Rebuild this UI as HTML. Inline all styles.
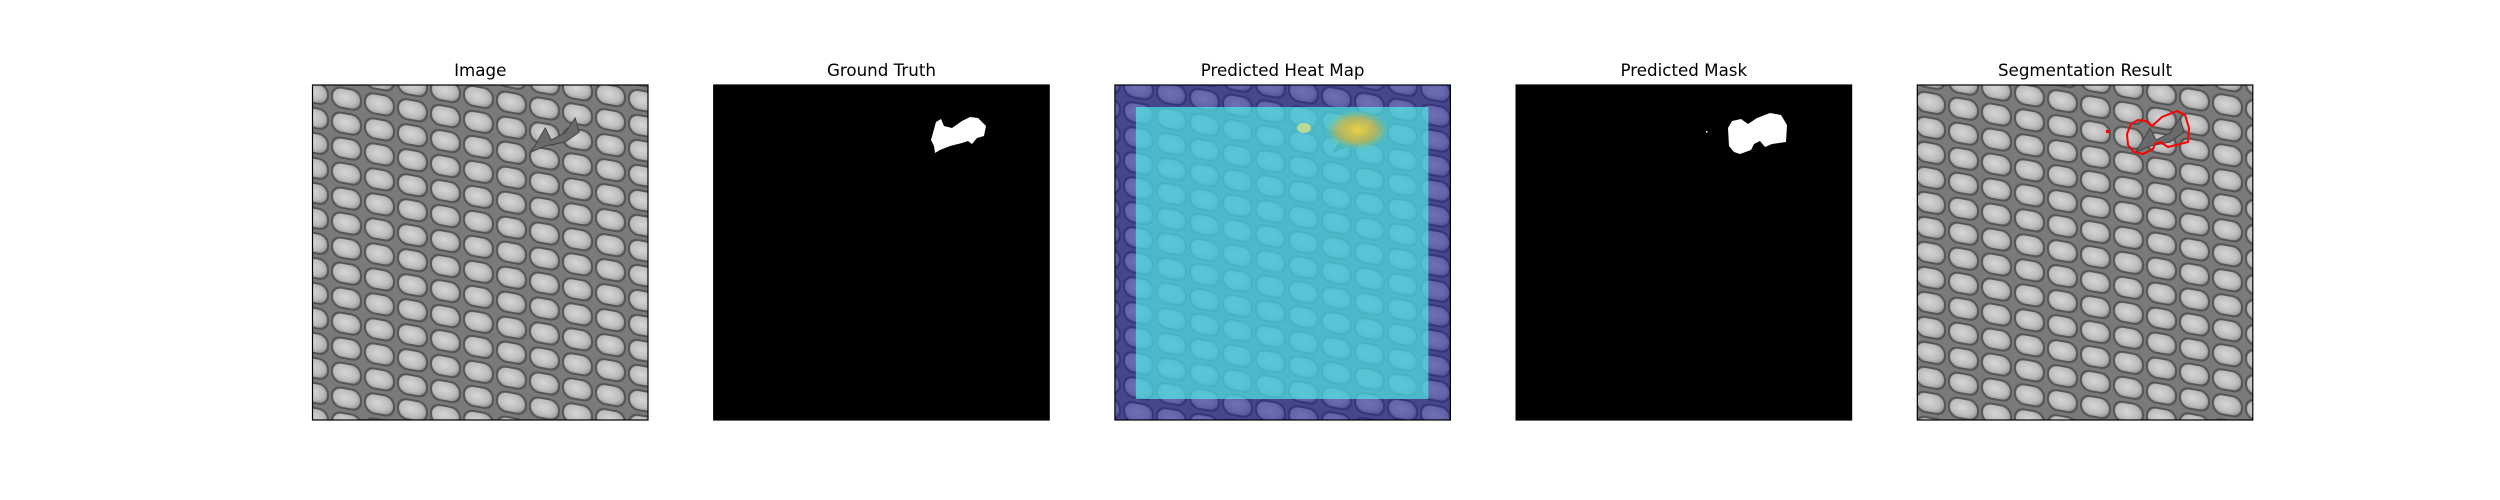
<!DOCTYPE html>
<html><head><meta charset="utf-8"><style>
html,body{margin:0;padding:0;background:#fff;width:2500px;height:500px;overflow:hidden}
svg{display:block}
text{font-family:"DejaVu Sans","Liberation Sans",sans-serif;font-size:16.7px;fill:#000}
</style></head><body>
<svg id="fig" width="2500" height="500" viewBox="0 0 2500 500">
<defs>
<radialGradient id="cellG" cx="0.45" cy="0.45" r="0.6">
<stop offset="0" stop-color="#d6d6d6"/><stop offset="0.7" stop-color="#bdbdbd"/><stop offset="1" stop-color="#9a9a9a"/>
</radialGradient>
<pattern id="mesh" width="33" height="25" patternUnits="userSpaceOnUse" patternTransform="skewY(10)">
<rect width="33" height="25" fill="#7a7a7a"/>
<rect x="1" y="1.5" width="31" height="22" rx="10" fill="#555"/>
<rect x="3" y="3.5" width="27" height="18" rx="8.5" fill="url(#cellG)"/>
</pattern>
<radialGradient id="hot" cx="0.5" cy="0.5" r="0.5">
<stop offset="0" stop-color="#f2d23a" stop-opacity="0.95"/><stop offset="0.6" stop-color="#d7b43a" stop-opacity="0.7"/><stop offset="1" stop-color="#8fc86a" stop-opacity="0"/>
</radialGradient>
</defs>
<g id="panels"></g>
</svg>
<script>
const titles = ["Image", "Ground Truth", "Predicted Heat Map", "Predicted Mask", "Segmentation Result"];
const kinds = ["image", "mask", "heat", "pred", "seg"];
const NS = "http://www.w3.org/2000/svg";
const g = document.getElementById('panels');
const X0 = 312.5, PITCH = 401.2, W = 335.5, Y0 = 85, H = 335;
function mk(tag, attrs, parent) { const e = document.createElementNS(NS, tag); for (const k in attrs) e.setAttribute(k, attrs[k]); parent.appendChild(e); return e; }
const gtPath = "M931,140 L936,122 L941,119 L944,126 L952,128 L962,121 L970,117 L978,118 L986,126 L984,136 L977,138 L972,144 L968,141 L962,143 L950,146 L940,150 L935,153 L934,146 Z";
const predPath = "M1728,128 L1732,121 L1741,119 L1748,124 L1757,118 L1770,113 L1781,115 L1787,125 L1786,142 L1772,144 L1765,147 L1760,141 L1754,144 L1751,150 L1740,154 L1734,152 L1729,146 Z";
const segPath = "M2127,134 L2131,124 L2138,120 L2146,121 L2152,126 L2162,117 L2177,111 L2185,115 L2189,128 L2188,142 L2176,145 L2168,147 L2160,142 L2155,144 L2153,149 L2143,154 L2134,152 L2128,145 Z";
const defect = "M2136,152 L2150,128 L2156,140 L2170,133 L2180,118 L2184,132 L2170,142 L2150,146 Z";
titles.forEach((t, i) => {
  const x = X0 + PITCH * i;
  const pg = mk('g', {}, g);
  
  
  const tt = mk('text', {x: x + W / 2, y: 76, 'text-anchor': 'middle'}, pg);
  tt.textContent = t;
  
  
  const k = kinds[i];
  if (k === 'image' || k === 'seg' || k === 'heat') {
    mk('rect', {x: x, y: Y0, width: W, height: H, fill: 'url(#mesh)'}, pg);
  } else {
    mk('rect', {x: x, y: Y0, width: W, height: H, fill: '#000'}, pg);
  }
  if (k === 'image' || k === 'seg' || k === 'heat') {
    const d = mk('path', {d: defect, fill: '#6a6a6a', stroke: '#444', 'stroke-width': 1}, pg);
    d.setAttribute('transform', 'translate(' + (x - (X0 + PITCH * 4)) + ',0)');
    
    
  }
  if (k === 'heat') {
    mk('rect', {x: x, y: Y0, width: W, height: H, fill: '#1c1c9a', opacity: 0.55}, pg);
    mk('rect', {x: x + 21, y: Y0 + 22, width: W - 43, height: H - 43, fill: '#50f0e8', opacity: 0.68}, pg);
    const hb = mk('ellipse', {cx: 1357, cy: 130, rx: 32, ry: 20, fill: 'url(#hot)'}, pg);
    
    
    mk('ellipse', {cx: 1304, cy: 128, rx: 7, ry: 5, fill: '#e8e880', opacity: 0.7}, pg);
  }
  if (k === 'mask') {
    const p = mk('path', {d: gtPath, fill: '#fff'}, pg);
    
    
  }
  if (k === 'pred') {
    const p = mk('path', {d: predPath, fill: '#fff'}, pg);
    
    
    mk('rect', {x: 1706, y: 131, width: 1.5, height: 1.5, fill: '#fff'}, pg);
  }
  if (k === 'seg') {
    const p = mk('path', {d: segPath, fill: 'none', stroke: '#f00', 'stroke-width': 2}, pg);
    
    
    mk('rect', {x: 2106, y: 130, width: 3, height: 3, fill: '#f00'}, pg);
  }
  const fr = mk('rect', {x: x, y: Y0, width: W, height: H, fill: 'none', stroke: '#000', 'stroke-width': 1.2}, pg);
  
  
});
</script>
</body></html>
